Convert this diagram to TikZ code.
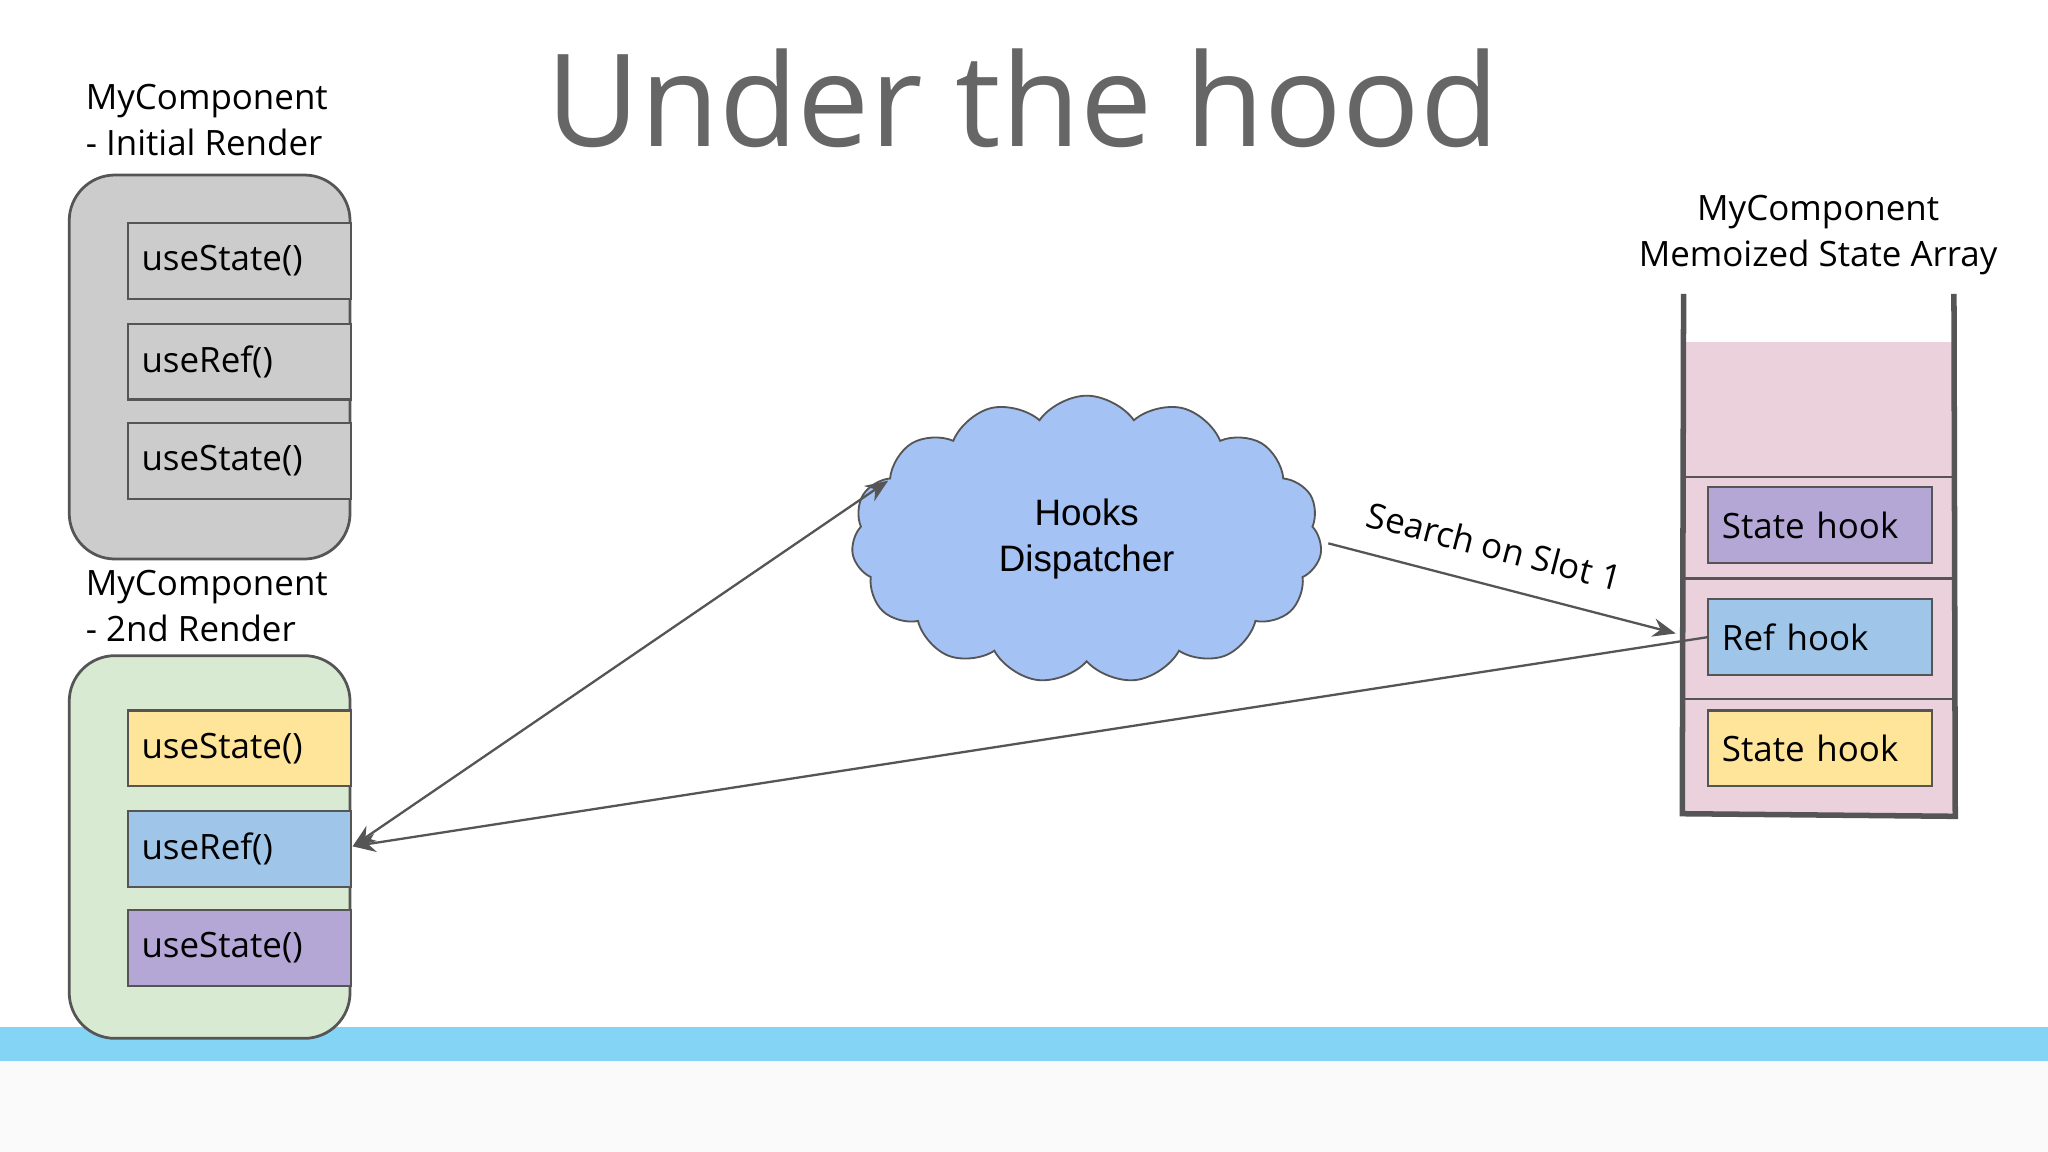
\documentclass[tikz,border=0pt]{standalone}
\usepackage{fontspec}
\setmainfont{Open Sans}
\newfontfamily\arial{Liberation Sans}
\usetikzlibrary{shapes.symbols,arrows.meta}
\definecolor{edge}{HTML}{555555}
\definecolor{grayfill}{HTML}{CCCCCC}
\definecolor{greenfill}{HTML}{D9EAD3}
\definecolor{yel}{HTML}{FFE599}
\definecolor{blu}{HTML}{9FC5E8}
\definecolor{pur}{HTML}{B4A7D6}
\definecolor{pink}{HTML}{EAD1DC}
\definecolor{cloudc}{HTML}{A4C2F4}
\definecolor{barc}{HTML}{84D4F5}
\begin{document}
\begin{tikzpicture}[x=0.01cm,y=-0.01cm,
  outer/.style={draw=edge,rounded corners=0.35cm,line width=0.6pt},
  hookbox/.style={draw=edge,line width=0.5pt,minimum width=1.71cm,minimum height=0.58cm,anchor=north west,inner sep=0pt,font=\fontsize{7.6}{9}\selectfont,text width=1.5cm,align=left},
  lbl/.style={font=\fontsize{7.6}{10}\selectfont,align=left,anchor=north west,inner sep=0pt},
  arr/.style={draw=edge,line width=0.5pt,-{Stealth[length=5pt,width=4pt]}}]
\useasboundingbox (0,0) rectangle (1568,882);
\fill[white] (0,0) rectangle (1568,882);
\fill[black!2] (0,786) rectangle (1568,882);
\fill[barc] (0,786) rectangle (1568,812);
\node[font=\fontsize{28}{30}\selectfont,text=black!60] (title) at (783,75) {Under the hood};
% left top
\node[lbl] (l1) at (65,64) {MyComponent\\- Initial Render};
\draw[outer,fill=grayfill] (53,134) rectangle (268,428);
\node[hookbox,fill=grayfill] (a1) at (97,170) {useState()};
\node[hookbox,fill=grayfill] (a2) at (97,247) {useRef()};
\node[hookbox,fill=grayfill] (a3) at (97,323) {useState()};
% left bottom
\node[lbl] (l2) at (65,436) {MyComponent\\- 2nd Render};
\draw[outer,fill=greenfill] (53,502) rectangle (268,795);
\node[hookbox,fill=yel] (b1) at (97,543) {useState()};
\node[hookbox,fill=blu] (b2) at (97,620) {useRef()};
\node[hookbox,fill=pur] (b3) at (97,696) {useState()};
% cloud
\node[cloud,cloud puffs=15,cloud puff arc=110,aspect=1.8,draw=edge,fill=cloudc,minimum width=3.6cm,minimum height=2.2cm,inner sep=0pt,font=\arial\fontsize{8}{10}\selectfont,align=center] (cl) at (832,413) {Hooks\\Dispatcher};
% stack
\node[font=\fontsize{7.6}{10}\selectfont,align=center] (l3) at (1392,180) {MyComponent\\Memoized State Array};
\fill[pink] (1290,262) rectangle (1496,623);
\draw[edge,line width=1.2pt] (1289,225) -- (1288,623) -- (1497,625) -- (1496,225);
\draw[edge,line width=0.5pt] (1290,365) -- (1496,365) (1290,443) -- (1496,443) (1290,535) -- (1496,535);
\node[hookbox,fill=pur] (s1) at (1307,372) {State hook};
\node[hookbox,fill=blu] (s2) at (1307,458) {Ref hook};
\node[hookbox,fill=yel] (s3) at (1307,543) {State hook};
% arrows
\coordinate (ct) at (680,368);
\coordinate (cr) at (1017,416);
\coordinate (sl) at (1283,485);
\coordinate (rr) at (270,648);
\draw[arr,{Stealth[length=5pt,width=4pt]}-{Stealth[length=5pt,width=4pt]}] (rr) -- (ct);
\draw[arr] (cr) -- node[above,sloped,font=\fontsize{7.6}{9}\selectfont,pos=0.45,yshift=2pt] {Search on Slot 1} (sl);
\draw[arr] (s2.west) -- (rr);
\end{tikzpicture}
\end{document}
